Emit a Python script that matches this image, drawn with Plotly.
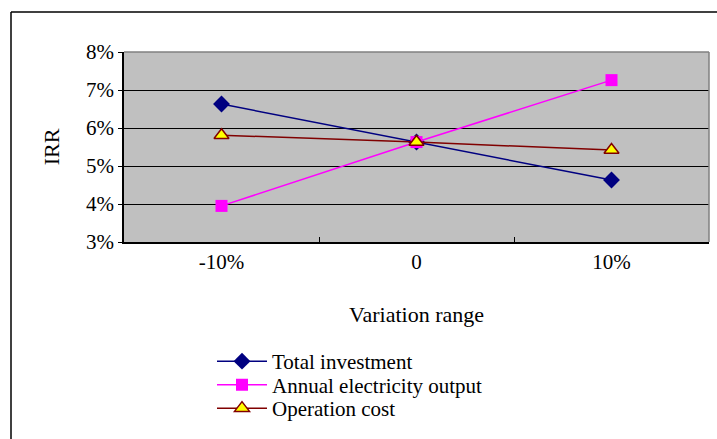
import plotly.graph_objects as go

categories = ["-10%", "0", "10%"]
total_investment = [6.63, 5.63, 4.63]
annual_output = [3.95, 5.63, 7.26]
operation_cost = [5.81, 5.63, 5.42]
y_ticks = [3, 4, 5, 6, 7, 8]
y_tick_labels = ["3%", "4%", "5%", "6%", "7%", "8%"]

FONT = "Liberation Serif, Times New Roman, serif"
FS = 21
FS_LEG = 21

W, H = 717, 439
L, R, T, B = 124, 8, 52, 197
pw, ph = W - L - R, H - T - B

def px_x(x):
    return (x - L) / pw

def px_y(y):
    return (H - B - y) / ph

fig = go.Figure()
fig.add_trace(go.Scatter(
    x=categories, y=total_investment, name="Total investment", mode="lines+markers",
    line=dict(color="#000080", width=1.5),
    marker=dict(symbol="diamond", size=13, color="#000080"),
    legend="legend",
))
fig.add_trace(go.Scatter(
    x=categories, y=annual_output, name="Annual electricity output", mode="lines+markers",
    line=dict(color="#FF00FF", width=1.5),
    marker=dict(symbol="square", size=12, color="#FF00FF"),
    legend="legend2",
))
fig.add_trace(go.Scatter(
    x=categories, y=operation_cost, name="Operation cost", mode="lines+markers",
    line=dict(color="#800000", width=1.5),
    marker=dict(symbol="triangle-up", size=13, color="#FFFF00",
                line=dict(color="#800000", width=1.5)),
    legend="legend3",
))

shapes = [
    dict(type="line", xref="paper", yref="paper", x0=0, x1=1, y0=1, y1=1,
         line=dict(color="#808080", width=1.5)),
    dict(type="line", xref="paper", yref="paper", x0=1, x1=1, y0=0, y1=1,
         line=dict(color="#808080", width=1.5)),
    dict(type="line", xref="paper", yref="paper", x0=px_x(11), x1=px_x(11),
         y0=px_y(12), y1=px_y(460), line=dict(color="#000000", width=1.5)),
    dict(type="line", xref="paper", yref="paper", x0=px_x(11), x1=px_x(740),
         y0=px_y(12), y1=px_y(12), line=dict(color="#000000", width=1.5)),
]

def leg(ycenter):
    return dict(
        x=px_x(212), y=px_y(ycenter), xanchor="left", yanchor="middle",
        font=dict(family=FONT, size=FS_LEG, color="#000000"),
        bgcolor="rgba(0,0,0,0)", itemwidth=50, borderwidth=0,
    )

fig.update_layout(
    width=W, height=H,
    margin=dict(l=L, r=R, t=T, b=B, pad=0),
    paper_bgcolor="white",
    plot_bgcolor="#C0C0C0",
    font=dict(family=FONT, size=FS, color="#000000"),
    showlegend=True,
    legend=leg(361.5),
    legend2=leg(385),
    legend3=leg(408.5),
    xaxis=dict(
        type="category", range=[-0.5, 2.5],
        showgrid=False, zeroline=False,
        showline=True, linecolor="#000000", linewidth=1.5,
        ticks="inside", tickson="boundaries", ticklen=5, tickcolor="#000000",
        tickfont=dict(family=FONT, size=FS),
        title=dict(text="Variation range", font=dict(family=FONT, size=22), standoff=34),
    ),
    yaxis=dict(
        range=[3, 8], tickvals=y_ticks, ticktext=y_tick_labels,
        showgrid=True, gridcolor="#000000", gridwidth=1,
        zeroline=False,
        showline=True, linecolor="#000000", linewidth=1.5,
        ticks="outside", ticklen=4, tickcolor="#000000",
        tickfont=dict(family=FONT, size=FS),
        title=dict(text="IRR", font=dict(family=FONT, size=22), standoff=20),
    ),
    shapes=shapes,
)

fig.write_html(
    "out.html",
    config={"displayModeBar": False},
    post_script="document.body.style.margin='0px';document.body.style.overflow='hidden';",
)
